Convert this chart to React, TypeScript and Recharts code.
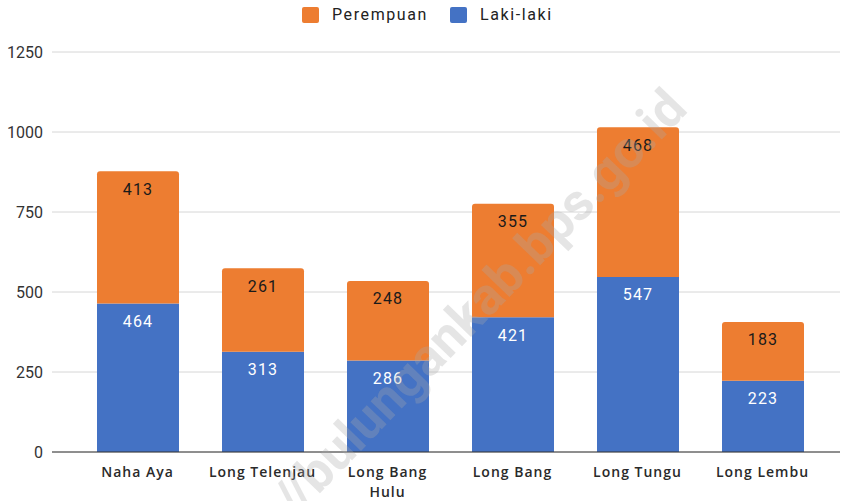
import React from "react";
import { BarChart, Bar, XAxis, YAxis, CartesianGrid, LabelList } from "recharts";

const categories = ["Naha Aya", "Long Telenjau", "Long Bang Hulu", "Long Bang", "Long Tungu", "Long Lembu"];
const lakiLaki = [464, 313, 286, 421, 547, 223];
const perempuan = [413, 261, 248, 355, 468, 183];
const yTicks = [0, 250, 500, 750, 1000, 1250];

const BLUE = "#4472C4";
const ORANGE = "#ED7D31";

const data = categories.map((name, i) => ({
  name,
  laki: lakiLaki[i],
  perempuan: perempuan[i],
}));

// wrap long category names onto two lines
function splitLabel(label: string, max = 13): string[] {
  const words = label.split(" ");
  const lines: string[] = [];
  let cur = "";
  for (const w of words) {
    const next = cur ? cur + " " + w : w;
    if (next.length > max && cur) {
      lines.push(cur);
      cur = w;
    } else {
      cur = next;
    }
  }
  if (cur) lines.push(cur);
  return lines;
}

function CategoryTick(props: any) {
  const { x, y, payload } = props;
  const lines = splitLabel(String(payload.value));
  return (
    <text
      x={x}
      y={y}
      textAnchor="middle"
      fill="#2a2a2a"
      fontFamily="'Open Sans', sans-serif"
      fontWeight={600}
      fontSize={14}
      letterSpacing={1}
    >
      {lines.map((l, i) => (
        <tspan key={i} x={x} dy={i === 0 ? 23 : 20}>
          {l}
        </tspan>
      ))}
    </text>
  );
}

function LegendBox() {
  const items = [
    { label: "Perempuan", color: ORANGE },
    { label: "Laki-laki", color: BLUE },
  ];
  return (
    <div
      style={{
        position: "absolute",
        top: 6,
        left: 302,
        display: "flex",
        gap: 22,
        fontFamily: "Roboto, sans-serif",
        fontSize: 16,
        letterSpacing: 1.6,
        color: "#222",
        lineHeight: "18px",
      }}
    >
      {items.map((it) => (
        <div key={it.label} style={{ display: "flex", alignItems: "center", gap: 13 }}>
          <span style={{ width: 17, height: 16, background: it.color, borderRadius: 2, display: "inline-block" }} />
          <span>{it.label}</span>
        </div>
      ))}
    </div>
  );
}

export default function App() {
  return (
    <div style={{ position: "absolute", left: 0, top: 0, width: 847, height: 501, background: "#fff", overflow: "hidden" }}>
      <BarChart
        width={847}
        height={501}
        data={data}
        margin={{ top: 52, right: 7, bottom: 19, left: 0 }}
        barSize={82}
      >
        <CartesianGrid vertical={false} stroke="#d6d6d6" />
        <XAxis
          dataKey="name"
          height={30}
          axisLine={{ stroke: "#333" }}
          tickLine={false}
          tickSize={0}
          padding={{ left: 23, right: 15 }}
          interval={0}
          tick={<CategoryTick />}
        />
        <YAxis
          width={52}
          domain={[0, 1250]}
          ticks={yTicks}
          axisLine={false}
          tickLine={false}
          tickSize={0}
          tickMargin={9}
          tick={{ fill: "#333", fontSize: 16, fontFamily: "Roboto, sans-serif" }}
        />
        <Bar dataKey="laki" name="Laki-laki" stackId="a" fill={BLUE} isAnimationActive={false}>
          <LabelList
            dataKey="laki"
            position="insideTop"
            offset={12}
            fill="#fff"
            fontSize={16}
            letterSpacing={1.2}
            fontFamily="Roboto, sans-serif"
          />
        </Bar>
        <Bar dataKey="perempuan" name="Perempuan" stackId="a" fill={ORANGE} radius={[3, 3, 0, 0]} isAnimationActive={false}>
          <LabelList
            dataKey="perempuan"
            position="insideTop"
            offset={12}
            fill="#1a1a1a"
            fontSize={16}
            letterSpacing={1.2}
            fontFamily="Roboto, sans-serif"
          />
        </Bar>
      </BarChart>
      <LegendBox />
      <div
        style={{
          position: "absolute",
          left: 433,
          top: 351,
          transform: "translate(-50%, -50%) rotate(-46deg)",
          whiteSpace: "nowrap",
          fontFamily: "Roboto, sans-serif",
          fontWeight: 700,
          fontSize: 52,
          color: "rgba(170,170,170,0.3)",
          pointerEvents: "none",
        }}
      >
        https://bulungankab.bps.go.id
      </div>
    </div>
  );
}
